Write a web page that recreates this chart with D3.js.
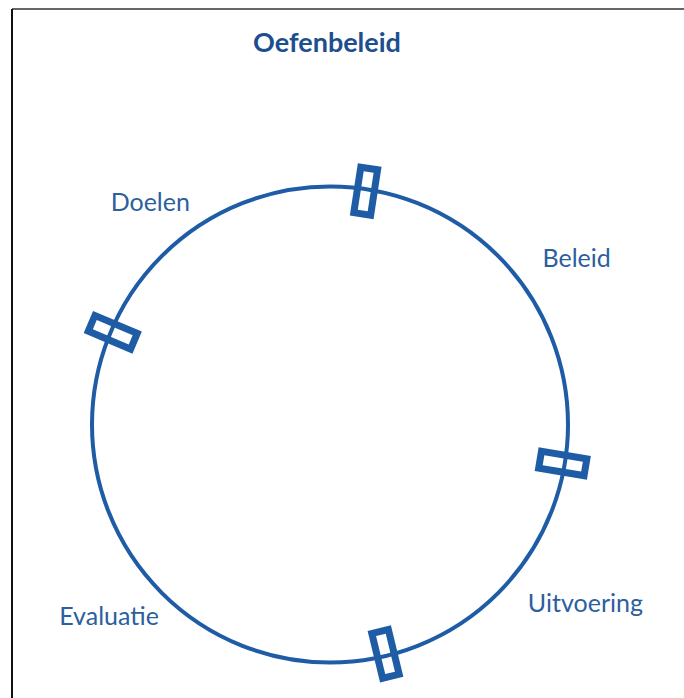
<!DOCTYPE html>
<html>
<head>
<meta charset="utf-8">
<script src="https://cdn.jsdelivr.net/npm/d3@7"></script>
<style>
  body { margin: 0; background: #fff; }
  svg text { font-family: "Lato", "Open Sans", sans-serif; }
</style>
</head>
<body>
<div id="chart"></div>
<script>
// Cycle data
const title = "Oefenbeleid";
const stages = ["Doelen", "Beleid", "Uitvoering", "Evaluatie"];
// label angle (degrees clockwise from top) and distance from centre in circle radii
const labelAngles = [321, 56, 125, 229];
const labelDist = [1.2, 1.25, 1.31, 1.23];
// marker angles on the ring (degrees clockwise from top)
const markerAngles = [8.7, 99.5, 166.4, 293];

const width = 684, height = 698;
const cx = 330, cy = 424.5, r = 238;
const blue = "#1f5ca6";

const svg = d3.select("#chart").append("svg")
  .attr("width", width)
  .attr("height", height);

// frame (top and left edge only visible)
svg.append("line").attr("x1", 12).attr("y1", 9).attr("x2", width).attr("y2", 9)
  .style("stroke", "#333").style("stroke-width", 1.5);
svg.append("line").attr("x1", 12).attr("y1", 9).attr("x2", 12).attr("y2", height)
  .style("stroke", "#111").style("stroke-width", 2);

svg.append("text")
  .attr("x", 327).attr("y", 52)
  .attr("text-anchor", "middle")
  .style("font-size", "27px").style("font-weight", "bold")
  .style("fill", "#1d4f8f")
  .text(title);

const angle = d3.scaleLinear().domain([0, 360]).range([0, 2 * Math.PI]);

const g = svg.append("g").attr("transform", `translate(${cx},${cy})`);

g.append("circle").attr("r", r)
  .style("fill", "none").style("stroke", blue).style("stroke-width", 4);

g.selectAll("rect.marker")
  .data(markerAngles)
  .enter().append("rect")
  .attr("class", "marker")
  .attr("x", -8.5).attr("y", -23)
  .attr("width", 17).attr("height", 46)
  .attr("transform", d => {
    const [x, y] = d3.pointRadial(angle(d), r - 2);
    return `translate(${x},${y}) rotate(${d})`;
  })
  .style("fill", "none").style("stroke", blue).style("stroke-width", 7);

g.selectAll("text.stage")
  .data(stages)
  .enter().append("text")
  .attr("class", "stage")
  .attr("transform", (d, i) => {
    const [x, y] = d3.pointRadial(angle(labelAngles[i]), r * labelDist[i]);
    return `translate(${x},${y})`;
  })
  .attr("text-anchor", "middle")
  .attr("dy", "0.35em")
  .style("font-size", "25px")
  .style("fill", "#2c5f9e")
  .text(d => d);
</script>
</body>
</html>
